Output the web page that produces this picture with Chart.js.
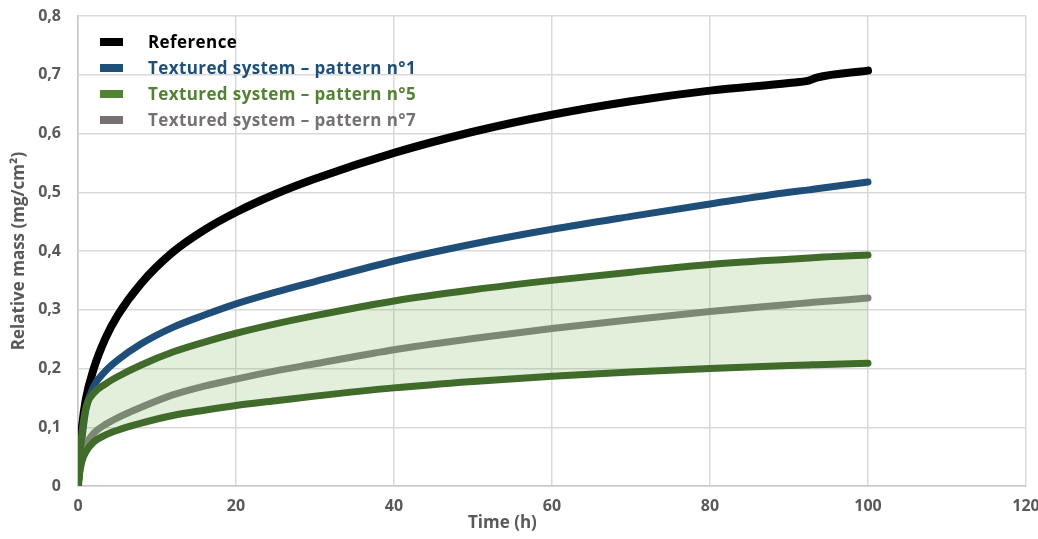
<!DOCTYPE html>
<html>
<head>
<meta charset="utf-8">
<script src="https://cdn.jsdelivr.net/npm/chart.js@4"></script>
<style>
  html, body { margin: 0; padding: 0; background: #fff; }
  #wrap { position: relative; width: 1038px; height: 539px; }
  #chart { position: absolute; left: 0; top: 0; }
  .legend { position: absolute; left: 100px; top: 29px; font-family: 'Open Sans', sans-serif; font-weight: 700; font-size: 17px; letter-spacing: 0.4px; }
  .legend-row { height: 26px; line-height: 26px; display: flex; align-items: center; white-space: nowrap; }
  .legend-swatch { width: 23px; height: 8px; margin-right: 25px; }
  .x-title { position: absolute; top: 510px; left: 468px; font-family: 'Open Sans', sans-serif; font-weight: 700; font-size: 17px; color: #595959; }
</style>
</head>
<body>
<div id="wrap">
  <canvas id="chart" width="1038" height="539"></canvas>
  <div class="legend" id="legend"></div>
  <div class="x-title">Time (h)</div>
</div>
<script>
// time (h)
const times = [0, 0.25, 0.5, 1, 2, 3.5, 5, 8, 12, 16, 20, 25, 30, 40, 50, 60, 70, 80, 90, 92.5, 93.5, 100];

// relative mass (mg/cm²)
const referenceMass = [0, 0.06, 0.1, 0.148, 0.2, 0.252, 0.29, 0.345, 0.398, 0.436, 0.466, 0.497, 0.523, 0.567, 0.603, 0.632, 0.655, 0.673, 0.686, 0.69, 0.695, 0.707];
const pattern1Mass  = [0, 0.045, 0.08, 0.13, 0.17, 0.196, 0.214, 0.242, 0.27, 0.291, 0.31, 0.33, 0.348, 0.383, 0.412, 0.437, 0.459, 0.48, 0.5, 0.504, 0.506, 0.5175];
const pattern5Upper = [0, 0.05, 0.09, 0.133, 0.158, 0.174, 0.186, 0.206, 0.228, 0.245, 0.26, 0.276, 0.29, 0.315, 0.334, 0.35, 0.364, 0.377, 0.386, 0.388, 0.389, 0.393];
const pattern5Lower = [0, 0.025, 0.042, 0.058, 0.075, 0.087, 0.095, 0.107, 0.12, 0.129, 0.137, 0.145, 0.153, 0.167, 0.178, 0.187, 0.194, 0.2, 0.205, 0.206, 0.2065, 0.209];
const pattern7Mass  = [0, 0.03, 0.05, 0.07, 0.09, 0.105, 0.116, 0.134, 0.155, 0.17, 0.182, 0.196, 0.208, 0.232, 0.251, 0.268, 0.283, 0.297, 0.309, 0.312, 0.313, 0.32];

const legendItems = [
  { label: 'Reference', color: '#000000' },
  { label: 'Textured system \u2013 pattern n°1', color: '#1f4e79' },
  { label: 'Textured system \u2013 pattern n°5', color: '#548235' },
  { label: 'Textured system \u2013 pattern n°7', color: '#767171' }
];

const toPoints = (ys) => ys.map((y, i) => ({ x: times[i], y: y }));

const lineStyle = (color, order) => ({
  borderColor: color,
  backgroundColor: color,
  borderWidth: 7,
  borderCapStyle: 'round',
  borderJoinStyle: 'round',
  pointRadius: 0,
  cubicInterpolationMode: 'monotone',
  fill: false,
  order: order
});

// legend (HTML, sits inside the plot like the original)
const legendEl = document.getElementById('legend');
legendItems.forEach(item => {
  const row = document.createElement('div');
  row.className = 'legend-row';
  row.innerHTML = `<span class="legend-swatch" style="background:${item.color}"></span><span style="color:${item.color}">${item.label}</span>`;
  legendEl.appendChild(row);
});

const tickFont = { family: "'Open Sans', sans-serif", weight: 'bold', size: 16 };

const ctx = document.getElementById('chart').getContext('2d');
new Chart(ctx, {
  type: 'line',
  data: {
    datasets: [
      Object.assign({ label: 'Reference', data: toPoints(referenceMass) }, lineStyle('#000000', 4), { borderWidth: 8 }),
      Object.assign({ label: 'Textured system – pattern n°1', data: toPoints(pattern1Mass) }, lineStyle('#1f4e79', 3)),
      Object.assign({ label: 'Textured system – pattern n°7', data: toPoints(pattern7Mass) }, lineStyle('#7f7f7f', 2)),
      Object.assign({ label: 'pattern n°5 (min)', data: toPoints(pattern5Lower) }, lineStyle('#416b2b', 0)),
      Object.assign({ label: 'Textured system – pattern n°5', data: toPoints(pattern5Upper) }, lineStyle('#416b2b', 1), {
        fill: { target: 3 },
        backgroundColor: 'rgba(112, 173, 71, 0.2)'
      })
    ]
  },
  options: {
    responsive: false,
    animation: false,
    layout: { padding: { top: 16, right: 12, left: 0, bottom: 0 } },
    plugins: {
      legend: { display: false },
      tooltip: { enabled: false },
      filler: { drawTime: 'beforeDatasetDraw' }
    },
    scales: {
      x: {
        type: 'linear',
        min: 0,
        max: 120,
        ticks: { stepSize: 20, padding: 11, color: '#595959', font: tickFont },
        grid: { color: '#d9d9d9', lineWidth: 1.5, drawTicks: false },
        border: { color: '#c8c8c8', width: 1.5 },
        afterFit: (s) => { s.height = 53; s.paddingLeft = 0; s.paddingRight = 0; }
      },
      y: {
        min: 0,
        max: 0.8,
        ticks: {
          stepSize: 0.1,
          padding: 17,
          color: '#595959',
          font: tickFont,
          callback: (v) => String(Math.round(v * 10) / 10).replace('.', ',')
        },
        title: {
          display: true,
          text: 'Relative mass (mg/cm²)',
          color: '#595959',
          font: { family: "'Open Sans', sans-serif", weight: 'bold', size: 17 },
          padding: { top: 9, bottom: 0 }
        },
        grid: { color: '#d9d9d9', lineWidth: 1.5, drawTicks: false },
        border: { color: '#c8c8c8', width: 1.5 },
        afterFit: (s) => { s.width = 78; s.paddingTop = 0; s.paddingBottom = 0; }
      }
    }
  }
});
</script>
</body>
</html>
